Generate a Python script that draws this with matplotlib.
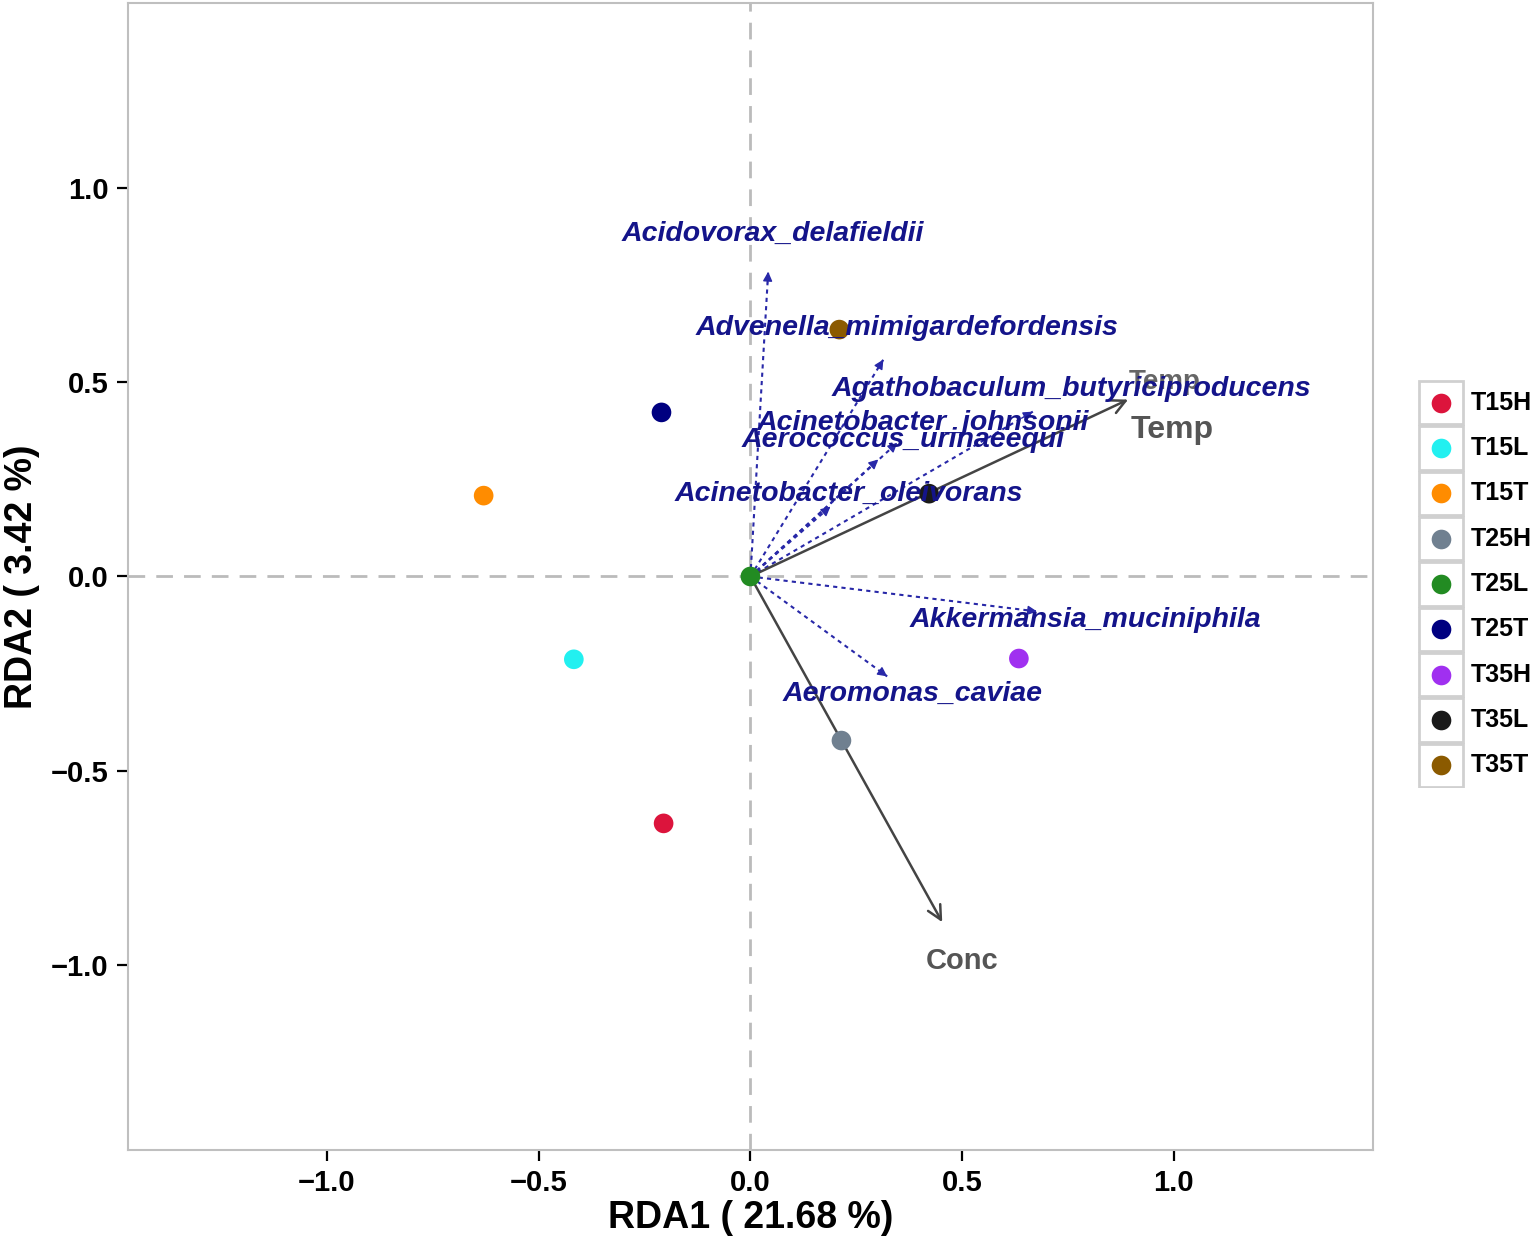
import matplotlib.pyplot as plt
from matplotlib.patches import Rectangle

plt.rcParams['font.family'] = ['Liberation Sans', 'DejaVu Sans']

# sample scores (RDA1, RDA2)
samples = ["T15H", "T15L", "T15T", "T25H", "T25L", "T25T", "T35H", "T35L", "T35T"]
sample_x = [-0.205, -0.417, -0.630, 0.215, 0.0, -0.210, 0.634, 0.422, 0.210]
sample_y = [-0.635, -0.213, 0.208, -0.422, 0.0, 0.422, -0.211, 0.213, 0.635]
sample_colors = ["#DC143C", "#22F0F0", "#FF8C00", "#708090", "#228B22",
                 "#000080", "#A030F0", "#1A1A1A", "#8B5A00"]

# species arrows
species = ["Acidovorax_delafieldii", "Advenella_mimigardefordensis",
           "Agathobaculum_butyriciproducens", "Acinetobacter_johnsonii",
           "Aerococcus_urinaeequi", "Acinetobacter_oleivorans",
           "Akkermansia_muciniphila", "Aeromonas_caviae"]
species_x = [0.042, 0.314, 0.667, 0.347, 0.302, 0.189, 0.677, 0.323]
species_y = [0.784, 0.558, 0.424, 0.344, 0.301, 0.180, -0.090, -0.257]
species_lab_x = [0.052, 0.370, 0.759, 0.406, 0.361, 0.233, 0.790, 0.384]
species_lab_y = [0.882, 0.638, 0.481, 0.396, 0.350, 0.213, -0.111, -0.303]

# environmental arrows
env = ["Temp", "Conc"]
env_x = [0.892, 0.453]
env_y = [0.455, -0.889]
env_labels = ["Temp", "Temp", "Conc"]
env_lab_x = [0.979, 0.995, 0.500]
env_lab_y = [0.499, 0.378, -0.990]

fig = plt.figure(figsize=(15.36, 12.47), dpi=100)
ax = fig.add_axes([0.0833, 0.0778, 0.8105, 0.9198])

ax.axhline(0, color="#BBBBBB", lw=2, ls=(0, (6, 4)), zorder=1)
ax.axvline(0, color="#BBBBBB", lw=2, ls=(0, (6, 4)), zorder=1)

# species arrows: dotted line + small filled head
for sx, sy in zip(species_x, species_y):
    ax.plot([0, sx], [0, sy], color="#2828A8", lw=1.5, ls=(0, (2, 2)), zorder=2)
    ax.annotate("", xy=(sx, sy), xytext=(sx * 0.96, sy * 0.96),
                arrowprops=dict(arrowstyle="-|>", color="#2828A8", lw=1,
                                mutation_scale=14, shrinkA=0, shrinkB=0), zorder=2)

# upper Temp label sits underneath the species labels
ax.text(env_lab_x[0], env_lab_y[0], env_labels[0], color="#666666", fontsize=20,
        fontweight="bold", ha="center", va="center", zorder=2)

for name, lx, ly in zip(species, species_lab_x, species_lab_y):
    ax.text(lx, ly, name, color="#14148A", fontsize=20.5, fontweight="bold",
            fontstyle="italic", ha="center", va="center", zorder=4)

# environmental arrows
for ex, ey in zip(env_x, env_y):
    ax.annotate("", xy=(ex, ey), xytext=(0, 0),
                arrowprops=dict(arrowstyle="->", color="#444444", lw=1.8,
                                mutation_scale=25, shrinkA=0, shrinkB=0), zorder=3)
for lab, lx, ly, fs in zip(env_labels[1:], env_lab_x[1:], env_lab_y[1:], [23, 21]):
    ax.text(lx, ly, lab, color="#555555", fontsize=fs, fontweight="bold",
            ha="center", va="center", zorder=5)

ax.scatter(sample_x, sample_y, c=sample_colors, s=200, zorder=3.5, linewidths=0)

ax.set_xlim(-1.47, 1.47)
ax.set_ylim(-1.475, 1.475)
ax.set_xticks([-1.0, -0.5, 0.0, 0.5, 1.0])
ax.set_yticks([-1.0, -0.5, 0.0, 0.5, 1.0])
ax.set_xticklabels(["\u22121.0", "\u22120.5", "0.0", "0.5", "1.0"])
ax.set_yticklabels(["\u22121.0", "\u22120.5", "0.0", "0.5", "1.0"])
ax.tick_params(length=8, width=1.6, colors="black", labelsize=21, pad=6)
for t in ax.get_xticklabels() + ax.get_yticklabels():
    t.set_fontweight("bold")
for sp in ax.spines.values():
    sp.set_color("#BFBFBF")
    sp.set_linewidth(1.5)
ax.set_xlabel("RDA1 ( 21.68 %)", fontsize=27, fontweight="bold", labelpad=2)
ax.set_ylabel("RDA2 ( 3.42 %)", fontsize=27, fontweight="bold", labelpad=8)

# ggplot-style legend with boxed keys
lax = fig.add_axes([1418 / 1536, (1247 - 788) / 1247, 118 / 1536, 408 / 1247])
lax.set_xlim(0, 118)
lax.set_ylim(len(samples), 0)
lax.axis("off")
for i, (name, col) in enumerate(zip(samples, sample_colors)):
    lax.add_patch(Rectangle((1, i + 0.02), 44, 0.96, facecolor="white",
                            edgecolor="#D0D0D0", lw=2))
    lax.scatter([23], [i + 0.5], c=[col], s=200, linewidths=0, zorder=3)
    lax.text(53, i + 0.5, name, fontsize=18, fontweight="bold", va="center", ha="left")

fig.savefig("out.png", dpi=100)
